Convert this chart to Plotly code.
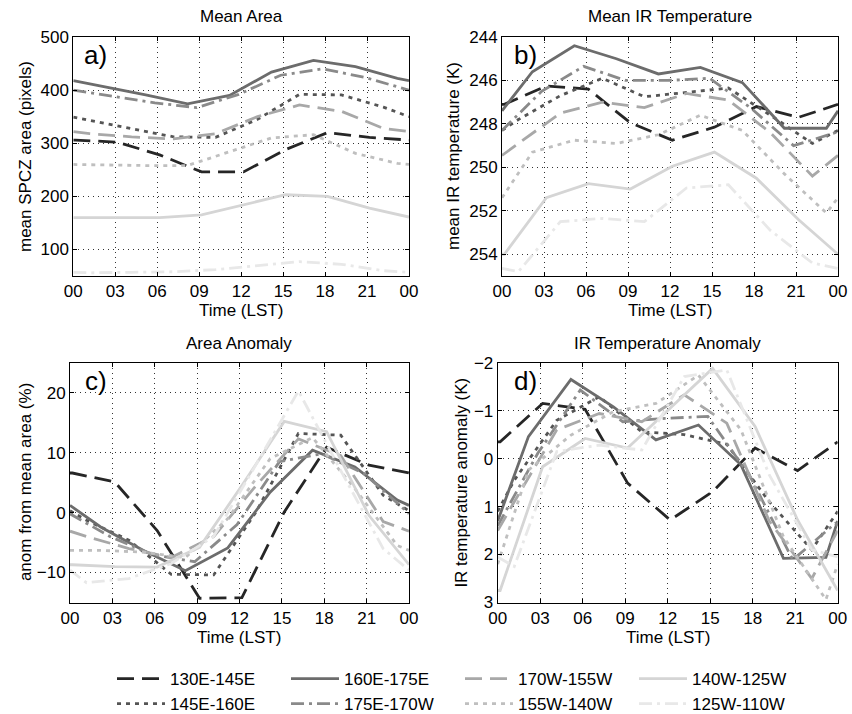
import plotly.graph_objects as go

# ---------------- data ----------------
REGIONS = ["130E-145E", "145E-160E", "160E-175E", "175E-170W",
           "170W-155W", "155W-140W", "140W-125W", "125W-110W"]

# local-solar-time sample hours for each band (with wrap-around end points 00 and 24)
T_A = [0, 0.17, 3.17, 6.17, 9.17, 12.17, 15.17, 18.17, 21.17, 24]
T_B = [0, 1.17, 4.17, 7.17, 10.17, 13.17, 16.17, 19.17, 22.17, 24]
T_C = [0, 2.17, 5.17, 8.17, 11.17, 14.17, 17.17, 20.17, 23.17, 24]
T_D = [0, 2.83, 5.83, 8.83, 11.83, 14.83, 17.83, 20.83, 23.83, 24]
HOURS = [T_A, T_B, T_C, T_D, T_B, T_C, T_A, T_B]

# a) mean area (pixels)
area_mean = [
    [306, 306, 302, 278, 246, 246, 288, 320, 311, 306],
    [349, 343, 328, 312, 311, 345, 392, 391, 368, 350],
    [418, 407, 391, 374, 390, 434, 456, 444, 422, 418],
    [400, 388, 376, 367, 392, 428, 440, 424, 401, 400],
    [322, 318, 312, 308, 318, 350, 372, 360, 328, 322],
    [260, 259, 258, 258, 284, 310, 316, 281, 262, 260],
    [160, 160, 160, 160, 165, 184, 203, 200, 178, 161],
    [57, 56, 57, 58, 62, 70, 77, 72, 60, 57],
]
# b) mean IR temperature (K)
ir_mean = [
    [247.1, 247.1, 246.25, 246.4, 247.95, 248.75, 248.15, 247.2, 247.7, 247.1],
    [248.3, 247.8, 246.7, 245.9, 246.75, 246.55, 246.35, 247.6, 248.9, 248.3],
    [247.4, 245.6, 244.4, 245.0, 245.7, 245.4, 246.1, 248.2, 248.2, 247.4],
    [248.3, 246.5, 245.35, 246.0, 246.0, 245.9, 247.3, 249.0, 248.4, 248.3],
    [249.45, 248.9, 247.5, 247.0, 247.25, 246.6, 246.9, 248.4, 250.4, 249.45],
    [251.4, 249.3, 248.75, 248.9, 248.5, 247.6, 248.3, 250.3, 252.1, 251.4],
    [254.0, 254.0, 251.4, 250.75, 251.0, 249.95, 249.3, 250.5, 252.4, 254.0],
    [254.65, 254.8, 252.5, 252.35, 252.5, 250.95, 250.8, 252.9, 254.4, 254.65],
]
# c) area anomaly (%)
area_anom = [
    [6.6, 6.6, 5.1, -3.0, -14.3, -14.2, 0.1, 10.9, 7.9, 6.6],
    [0.3, -1.3, -4.6, -10.3, -10.4, 0.1, 13.2, 12.9, 2.9, 0.3],
    [1.2, -2.4, -6.3, -9.7, -5.9, 3.4, 10.4, 7.6, 2.1, 1.2],
    [-0.2, -4.0, -7.0, -8.2, -2.0, 8.5, 9.8, 6.5, 0.2, -0.2],
    [-3.1, -4.0, -6.0, -7.5, -4.0, 4.5, 12.3, 9.5, -1.5, -3.1],
    [-6.3, -6.3, -6.6, -7.5, -1.0, 9.0, 12.5, 4.0, -5.5, -6.3],
    [-8.7, -8.7, -9.0, -9.1, -5.8, 4.5, 15.2, 13.5, -0.5, -8.7],
    [-9.6, -11.7, -11.0, -8.5, -4.0, 8.0, 20.3, 7.0, -6.0, -9.6],
]
# d) IR temperature anomaly (K)
ir_anom = [
    [-0.35, -0.35, -1.15, -1.03, 0.51, 1.28, 0.69, -0.22, 0.25, -0.35],
    [1.1, 0.45, -0.8, -1.29, -0.56, -0.5, -0.3, 0.9, 1.9, 1.1],
    [1.3, -0.46, -1.65, -1.08, -0.39, -0.70, 0.13, 2.08, 2.06, 1.3],
    [1.4, -0.11, -1.43, -0.77, -0.84, -0.88, 0.38, 2.11, 1.35, 1.4],
    [1.5, 0.9, -0.6, -0.94, -0.77, -1.33, -0.74, 1.3, 2.5, 1.5],
    [2.2, 0.24, -0.49, -0.98, -1.15, -1.74, -0.6, 1.63, 2.94, 2.2],
    [2.75, 2.75, 0.17, -0.42, -0.22, -1.05, -1.88, -0.67, 1.28, 2.75],
    [2.05, 2.25, -0.15, -0.28, -0.18, -1.71, -1.85, 0.34, 1.9, 2.05],
]

X_TICKS = [0, 3, 6, 9, 12, 15, 18, 21, 24]
X_TICKTEXT = ["00", "03", "06", "09", "12", "15", "18", "21", "00"]

# ---------------- styles ----------------
COLORS = ["#262626", "#555555", "#6c6c6c", "#8a8a8a",
          "#a8a8a8", "#bfbfbf", "#d5d5d5", "#e8e8e8"]
DASHES = ["17px,8px", "4px,5px", "solid", "13px,5px,3px,5px",
          "17px,8px", "4px,5px", "solid", "13px,5px,3px,5px"]
LEG_RANK = [1, 5, 2, 6, 3, 7, 4, 8]
FONT = "Liberation Sans, Arial, Helvetica, sans-serif"
W, H = 852, 714

# panel pixel boxes: (left, right, top, bottom)
BOXES = [(73.3, 409, 37, 276), (502, 838, 37, 276),
         (70, 409, 362.7, 602.5), (497.7, 837.7, 362.7, 602.5)]

panels = [area_mean, ir_mean, area_anom, ir_anom]

fig = go.Figure()
for p, data in enumerate(panels):
    sfx = "" if p == 0 else str(p + 1)
    for i, name in enumerate(REGIONS):
        fig.add_trace(go.Scatter(
            x=HOURS[i], y=data[i], mode="lines", name=name,
            line=dict(color=COLORS[i], width=2.8, dash=DASHES[i]),
            xaxis="x" + sfx, yaxis="y" + sfx,
            showlegend=(p == 0), legendrank=LEG_RANK[i],
            hoverinfo="skip"))

y_specs = [
    dict(range=[50, 500], tickvals=[100, 200, 300, 400, 500]),
    dict(range=[255, 244], tickvals=[244, 246, 248, 250, 252, 254]),
    dict(range=[-15, 25], tickvals=[-10, 0, 10, 20]),
    dict(range=[3, -2], tickvals=[-2, -1, 0, 1, 2, 3]),
]

common = dict(showline=True, linecolor="#000", linewidth=1, mirror="ticks",
              ticks="inside", ticklen=4, tickcolor="#000",
              showgrid=True, gridcolor="#333", gridwidth=1, griddash="1px,4px",
              zeroline=False, tickfont=dict(family=FONT, size=17, color="#000"))

layout = dict(width=W, height=H, margin=dict(l=0, r=0, t=0, b=0, autoexpand=False),
              paper_bgcolor="white", plot_bgcolor="white",
              font=dict(family=FONT, size=17, color="#000"))
for p, (l, r, t, b) in enumerate(BOXES):
    sfx = "" if p == 0 else str(p + 1)
    xd = [l / W, r / W]
    yd = [1 - b / H, 1 - t / H]
    layout["xaxis" + sfx] = dict(common, domain=xd, range=[0, 24], tickvals=X_TICKS,
                                 ticktext=X_TICKTEXT, anchor="y" + sfx)
    layout["yaxis" + sfx] = dict(common, domain=yd, anchor="x" + sfx, **y_specs[p])
fig.update_layout(**layout)

titles = ["Mean Area", "Mean IR Temperature", "Area Anomaly", "IR Temperature Anomaly"]
ytitles = ["mean SPCZ area (pixels)", "mean IR temperature (K)",
           "anom from mean area (%)", "IR temperature anomaly (K)"]
ytitle_x = [25.5, 453.5, 25.5, 462]
title_y = [16.7, 16.7, 343.3, 343.3]
xtitle_y = [310, 310, 637, 637]
labels = ["a)", "b)", "c)", "d)"]
label_dx = [8.5, 9.5, 13, 14]

ann = []
for p, (l, r, t, b) in enumerate(BOXES):
    cx = (l + r) / 2 / W
    ann.append(dict(text=titles[p], x=cx, y=1 - title_y[p] / H, xref="paper", yref="paper",
                    showarrow=False, xanchor="center", yanchor="middle",
                    font=dict(family=FONT, size=17)))
    ann.append(dict(text="Time (LST)", x=cx, y=1 - xtitle_y[p] / H, xref="paper", yref="paper",
                    showarrow=False, xanchor="center", yanchor="middle",
                    font=dict(family=FONT, size=17)))
    ann.append(dict(text=ytitles[p], x=ytitle_x[p] / W, y=1 - (t + b) / 2 / H,
                    xref="paper", yref="paper", textangle=-90, showarrow=False,
                    xanchor="center", yanchor="middle", font=dict(family=FONT, size=17)))
    ann.append(dict(text=labels[p], x=(l + label_dx[p]) / W, y=1 - (t + 18) / H,
                    xref="paper", yref="paper", showarrow=False,
                    xanchor="left", yanchor="middle", font=dict(family=FONT, size=26)))
fig.update_layout(annotations=ann)

fig.update_layout(legend=dict(orientation="h", x=112 / W, xanchor="left",
                              y=1 - 661 / H, yanchor="top",
                              entrywidth=111, entrywidthmode="pixels",
                              itemwidth=48, traceorder="normal",
                              font=dict(family=FONT, size=17, color="#000"),
                              bgcolor="rgba(0,0,0,0)", tracegroupgap=0))

fig.write_html("out.html")
